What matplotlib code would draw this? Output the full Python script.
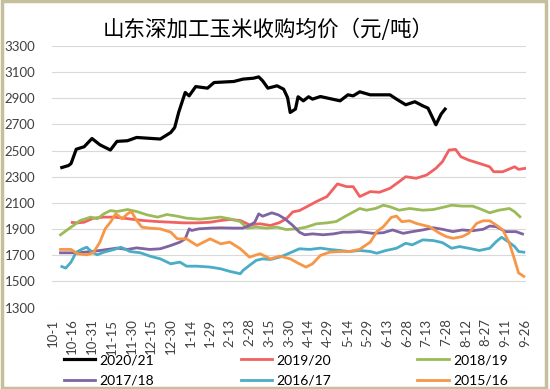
import matplotlib
matplotlib.use("Agg")
import matplotlib.pyplot as plt
from matplotlib.patches import Rectangle

plt.rcParams['font.family'] = ['Lato', 'DejaVu Sans']

# x values are days counted from 10-1
tick_labels = ['10-1', '10-16', '10-31', '11-15', '11-30', '12-15', '12-30',
               '1-14', '1-29', '2-13', '2-28', '3-15', '3-30', '4-14', '4-29',
               '5-14', '5-29', '6-13', '6-28', '7-13', '7-28', '8-12', '8-27',
               '9-11', '9-26']
tick_days = [15 * i for i in range(len(tick_labels))]

d_2021 = [7, 12, 14, 18, 24, 30, 36, 44, 49, 57, 64, 82, 90, 93, 96, 101, 104,
          109, 118, 123, 138, 145, 153, 157, 160, 164, 171, 176, 179, 181, 185,
          187, 191, 195, 198, 204, 219, 225, 229, 234, 242, 257, 262, 269, 276,
          282, 286, 292, 296, 299]
v_2021 = [2370, 2385, 2400, 2510, 2529, 2592, 2544, 2504, 2570, 2575, 2600,
          2588, 2638, 2676, 2791, 2944, 2918, 2989, 2977, 3020, 3028, 3046,
          3053, 3063, 3033, 2977, 2995, 2969, 2905, 2791, 2817, 2911, 2880,
          2911, 2893, 2913, 2880, 2926, 2918, 2949, 2926, 2926, 2893, 2850,
          2873, 2842, 2824, 2697, 2779, 2817]

d_1920 = [15, 19, 24, 31, 39, 47, 54, 62, 69, 80, 90, 100, 110, 120, 128, 135,
          143, 150, 158, 166, 173, 178, 183, 188, 193, 201, 209, 217, 224, 229,
          234, 242, 249, 257, 264, 269, 277, 285, 292, 297, 302, 307, 311, 317,
          325, 333, 336, 343, 352, 355, 360]
v_1920 = [1950, 1947, 1952, 1983, 1991, 1991, 1983, 1973, 1965, 1957, 1952,
          1947, 1947, 1952, 1965, 1973, 1965, 1932, 1940, 1927, 1950, 1978,
          2031, 2041, 2067, 2110, 2148, 2245, 2224, 2224, 2148, 2186, 2181,
          2211, 2262, 2300, 2288, 2313, 2364, 2415, 2504, 2509, 2453, 2427,
          2402, 2376, 2338, 2338, 2376, 2356, 2364]

d_1819 = [6, 14, 21, 29, 34, 39, 44, 49, 57, 64, 72, 80, 87, 95, 102, 112, 120,
          128, 135, 143, 148, 155, 163, 171, 178, 186, 193, 201, 209, 216, 224,
          234, 239, 246, 252, 257, 264, 272, 282, 290, 297, 304, 312, 320, 325,
          333, 340, 348, 352, 356]
v_1819 = [1856, 1914, 1965, 1991, 1978, 2016, 2041, 2034, 2049, 2034, 2008,
          1991, 2011, 1998, 1983, 1975, 1983, 1991, 1978, 1957, 1907, 1914,
          1907, 1914, 1896, 1901, 1914, 1940, 1947, 1957, 2003, 2057, 2044,
          2057, 2082, 2070, 2044, 2057, 2044, 2049, 2065, 2082, 2075, 2075,
          2057, 2024, 2044, 2057, 2032, 1994]

d_1718 = [6, 19, 29, 36, 49, 57, 64, 74, 82, 90, 97, 101, 104, 106, 111, 120,
          128, 138, 145, 150, 154, 157, 160, 167, 172, 177, 183, 188, 192, 198,
          206, 214, 221, 226, 234, 244, 252, 259, 267, 274, 282, 290, 297, 305,
          312, 320, 328, 333, 338, 345, 353, 358]
v_1718 = [1718, 1718, 1728, 1736, 1754, 1744, 1756, 1744, 1749, 1774, 1800,
          1825, 1901, 1889, 1901, 1907, 1909, 1907, 1907, 1927, 1952, 2016,
          1998, 2024, 2008, 1978, 1927, 1876, 1856, 1863, 1856, 1863, 1876,
          1876, 1880, 1867, 1872, 1893, 1867, 1880, 1893, 1910, 1898, 1880,
          1893, 1887, 1898, 1923, 1918, 1880, 1880, 1862]

d_1617 = [7, 10, 14, 18, 23, 26, 30, 34, 39, 47, 52, 59, 67, 74, 82, 90, 97,
          102, 110, 120, 128, 135, 143, 145, 150, 155, 160, 166, 173, 181, 188,
          196, 204, 211, 219, 226, 234, 242, 247, 254, 262, 269, 274, 282, 290,
          297, 304, 310, 317, 325, 333, 338, 342, 347, 352, 355, 359]
v_1617 = [1613, 1601, 1647, 1723, 1749, 1761, 1723, 1703, 1723, 1744, 1761,
          1728, 1718, 1693, 1672, 1634, 1647, 1616, 1616, 1609, 1596, 1576,
          1558, 1583, 1622, 1660, 1672, 1667, 1685, 1718, 1749, 1744, 1754,
          1744, 1736, 1728, 1736, 1728, 1715, 1736, 1753, 1791, 1779, 1817,
          1812, 1796, 1753, 1766, 1753, 1736, 1753, 1804, 1837, 1804, 1766,
          1728, 1723]

d_1516 = [6, 14, 19, 26, 31, 36, 40, 44, 48, 50, 53, 57, 60, 64, 68, 74, 82, 90,
          95, 102, 110, 120, 128, 135, 143, 150, 158, 166, 173, 181, 188, 193,
          198, 204, 211, 219, 226, 234, 242, 247, 252, 258, 262, 266, 272, 277,
          282, 287, 295, 300, 305, 312, 317, 323, 328, 333, 338, 343, 348, 352,
          355, 359]
v_1516 = [1744, 1744, 1711, 1703, 1718, 1800, 1901, 1952, 2016, 2003, 1978,
          2016, 2034, 1965, 1914, 1907, 1901, 1876, 1825, 1825, 1774, 1825,
          1787, 1800, 1749, 1685, 1711, 1672, 1693, 1672, 1634, 1609, 1634,
          1698, 1723, 1728, 1728, 1745, 1800, 1880, 1918, 1989, 1999, 1956,
          1963, 1943, 1930, 1918, 1867, 1842, 1829, 1842, 1867, 1943, 1963,
          1963, 1930, 1893, 1791, 1665, 1564, 1538]

fig = plt.figure(figsize=(5.5, 3.89), dpi=100)
ax = fig.add_axes([0.0945, 0.2095, 0.8615, 0.6725])

ax.plot(d_2021, v_2021, color='black', lw=2.3, label='2020/21')
ax.plot(d_1920, v_1920, color='#f26161', lw=2, label='2019/20')
ax.plot(d_1819, v_1819, color='#9bbb59', lw=2, label='2018/19')
ax.plot(d_1718, v_1718, color='#8064a2', lw=2, label='2017/18')
ax.plot(d_1617, v_1617, color='#4bacc6', lw=2, label='2016/17')
ax.plot(d_1516, v_1516, color='#f79646', lw=2, label='2015/16')

ax.set_xlim(-0.5, 360.5)
ax.set_ylim(1300, 3300)
ax.set_yticks(range(1300, 3301, 200))
ax.set_xticks(tick_days)
ax.set_xticklabels(tick_labels, rotation=90)
ax.tick_params(axis='both', length=0, labelsize=9.5, labelcolor='#404040')
ax.tick_params(axis='y', pad=12)
ax.tick_params(axis='x', pad=8)
ax.grid(axis='y', color='#d9d9d9', lw=0.8)
ax.set_axisbelow(True)
for s in ax.spines.values():
    s.set_visible(False)

fig.text(0.487, 0.923, '山东深加工玉米收购均价（元/吨）', ha='center', va='center',
         fontsize=15.5, family=['Noto Sans CJK SC', 'DejaVu Sans'])

# legend fills row by row in the reference, so reorder for matplotlib's column fill
handles, labels = ax.get_legend_handles_labels()
order = [0, 3, 1, 4, 2, 5]
fig.legend([handles[i] for i in order], [labels[i] for i in order],
           loc='center', bbox_to_anchor=(0.52, 0.048), ncol=3, frameon=False,
           fontsize=10, handlelength=2.3, handletextpad=0.3,
           columnspacing=6.2, labelspacing=0.6)

fig.patches.append(Rectangle((0.003, 0.003), 0.99, 0.994, transform=fig.transFigure,
                             fill=False, edgecolor='#c6bf9b', lw=2.5))

fig.savefig('out.png', dpi=100)
